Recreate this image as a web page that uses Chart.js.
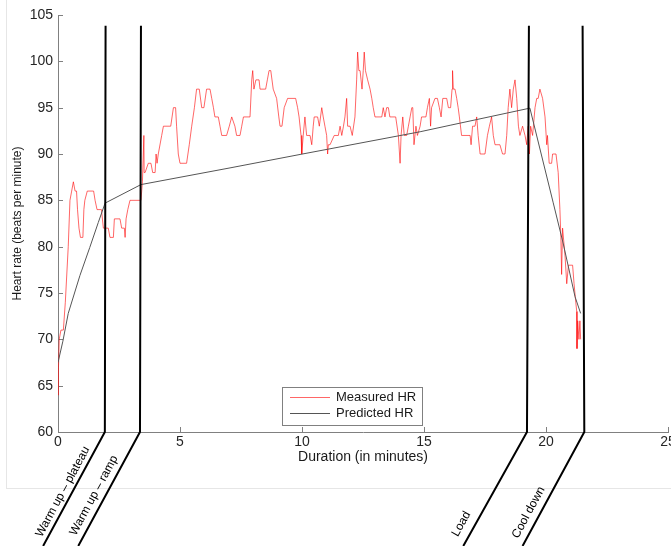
<!DOCTYPE html>
<html>
<head>
<meta charset="utf-8">
<script src="https://cdn.jsdelivr.net/npm/chart.js@4.4.1/dist/chart.umd.min.js"></script>
<style>
    html, body { margin: 0; padding: 0; background: #fff; }
    #wrap { position: relative; width: 671px; height: 546px; overflow: hidden; }
    #frame { position: absolute; left: 6px; top: 0; width: 665px; height: 488px; border-left: 1px solid #e6e6e6; border-bottom: 1px solid #e6e6e6; }
    #hrChart { position: absolute; left: 0; top: 0; }
</style>
</head>
<body>
<div id="wrap">
    <div id="frame"></div>
    <canvas id="hrChart" width="671" height="546"></canvas>
</div>
<script>
// measured heart rate (minutes / bpm), split by stretch
const warmTime = [0.00, 0.02, 0.05, 0.12, 0.22, 0.30, 0.42, 0.49, 0.56, 0.63, 0.70, 0.76, 0.80, 0.86, 0.92, 1.02, 1.06, 1.10, 1.20, 1.46, 1.52, 1.60, 1.78, 1.86, 2.06, 2.13, 2.27, 2.31, 2.54, 2.61, 2.72, 2.75, 2.79, 2.86, 2.95, 3.40];
const warmHR = [64, 67, 70, 71, 71, 74, 80, 85, 86, 87, 86, 86, 84, 82, 81, 81, 84, 85, 86, 86, 85, 84, 84, 82, 82, 81, 81, 83, 83, 82, 82, 81, 83, 84, 85, 85];

const loadTimeA = [3.46, 3.52, 3.53, 3.57, 3.70, 3.81, 3.88, 3.98, 4.02, 4.06, 4.11, 4.25, 4.32, 4.62, 4.73, 4.82, 4.86, 4.93, 5.00, 5.27, 5.38, 5.48, 5.59, 5.68, 5.79, 5.89, 5.98, 6.09, 6.23, 6.30, 6.37, 6.43, 6.57, 6.64, 6.71, 6.91, 7.02, 7.12, 7.25, 7.32, 7.46, 7.53, 7.60, 7.87, 7.94, 7.98, 8.03, 8.11, 8.24, 8.28, 8.51, 8.58, 8.65, 8.72, 8.82, 8.96, 9.05];
const loadHRA = [87, 92, 88, 88, 89, 89, 88, 88, 90, 89, 90, 92, 93, 93, 95, 95, 93, 90, 89, 89, 91, 93, 95, 97, 97, 95, 95, 97, 97, 96, 95, 94, 94, 93, 92, 92, 93, 94, 93, 92, 92, 93, 94, 94, 98, 99, 97, 98, 98, 97, 97, 98, 99, 99, 97, 96, 94];

const loadTimeB = [9.10, 9.18, 9.27, 9.41, 9.74, 9.82, 9.88, 9.96, 9.99, 10.05, 10.12, 10.19, 10.33, 10.40, 10.46, 10.50, 10.64, 10.71, 10.81, 10.87, 10.94, 11.01, 11.05, 11.08, 11.15, 11.32, 11.49, 11.56, 11.63, 11.70, 11.76, 11.83, 11.87, 11.97, 12.06, 12.17, 12.24, 12.28, 12.33, 12.38, 12.42, 12.46, 12.51, 12.55, 12.60, 12.69, 12.79, 12.86, 12.92, 12.99, 13.27, 13.33, 13.40, 13.47, 13.54, 13.60, 13.84, 13.95, 14.02, 14.06, 14.13, 14.19, 14.29, 14.36, 14.43, 14.50];
const loadHRB = [93, 93, 95, 96, 96, 95, 94, 92, 90, 92, 94, 92, 92, 91, 93, 94, 94, 93, 95, 94, 93, 92, 90, 91, 91, 92, 92, 93, 92, 93, 94, 96, 93, 93, 92, 94, 98, 101, 99, 99, 98, 97, 99, 101, 99, 98, 97, 96, 95, 94, 94, 95, 94, 95, 95, 94, 94, 92, 89, 92, 94, 92, 92, 93, 94, 95];

const coolTime = [14.54, 14.59, 14.67, 14.73, 14.84, 14.90, 15.08, 15.14, 15.22, 15.27, 15.31, 15.45, 15.55, 15.63, 15.70, 15.77, 15.93, 16.00, 16.09, 16.15, 16.17, 16.20, 16.27, 16.34, 16.40, 16.45, 16.54, 16.89, 16.93, 16.99, 17.09, 17.16, 17.22, 17.30, 17.50, 17.60, 17.68, 17.77, 17.84, 17.91, 18.11, 18.22, 18.32, 18.39, 18.45, 18.52, 18.59, 18.66, 18.73, 18.80, 18.87, 18.93, 19.04, 19.14, 19.21, 19.27, 19.32, 19.37, 19.45, 19.55, 19.62, 19.68, 19.75, 19.86, 19.96, 20.03, 20.06, 20.13, 20.23, 20.27, 20.41, 20.50, 20.57, 20.61, 20.64, 20.68, 20.78, 20.85, 20.92, 21.09, 21.15, 21.22, 21.26, 21.27, 21.30, 21.35, 21.39, 21.42];
const coolHR = [95, 91, 93, 92, 93, 94, 94, 95, 96, 93, 95, 96, 96, 95, 94, 96, 96, 95, 95, 97, 99, 97, 97, 96, 95, 94, 92, 92, 91, 93, 93, 94, 92, 90, 90, 92, 93, 94, 92, 91, 91, 90, 90, 92, 95, 97, 95, 97, 98, 96, 93, 92, 93, 92, 91, 93, 90, 93, 92, 95, 96, 96, 97, 96, 94, 91, 92, 89, 89, 90, 90, 88, 84, 81, 77, 82, 79, 76, 78, 78, 76, 74, 73, 69, 72, 70, 72, 70];

// predicted heart rate
const predTime = [0, 0.2, 0.42, 0.9, 1.3, 1.65, 1.93, 3.40, 7.05, 9.92, 14.84, 16.07, 19.34, 20.29, 20.70, 21.19, 21.42];
const predHR = [67.5, 69.8, 72.8, 76.9, 79.9, 82.6, 84.7, 86.7, 88.5, 89.95, 92.4, 93.1, 94.95, 84.8, 80.4, 74.6, 72.8];

// phase markers: top of line, foot on the axis, and where the slanted leg leaves the figure
const phaseNames = ['Warm up \u2013 plateau', 'Warm up \u2013 ramp', 'Load', 'Cool down'];
const phaseTopX = [1.95, 3.40, 19.30, 21.50];
const phaseBaseX = [1.92, 3.36, 19.22, 21.57];
const phaseFootX = [-0.61, 0.83, 16.61, 19.04];
const phaseTopY = 103.85;
const phaseFootY = 47.7;
const phaseLabelAt = [0.56, 0.60, 0.86, 0.75];
const phaseLabelGap = [8.5, 10.3, 12.5, 10.7];

const xTicks = [0, 5, 10, 15, 20, 25];
const yTicks = [60, 65, 70, 75, 80, 85, 90, 95, 100, 105];

const seriesNames = ['Measured HR', 'Predicted HR'];
const seriesColors = ['rgba(255, 0, 0, 0.6)', '#555555'];
const axisColor = '#808080';
const fontFamily = '"Liberation Sans", Arial, Helvetica, sans-serif';

const toPoints = (xs, ys) => xs.map((v, i) => ({ x: v, y: ys[i] }));

const measured = [].concat(
    toPoints(warmTime, warmHR),
    toPoints(loadTimeA, loadHRA),
    toPoints(loadTimeB, loadHRB),
    toPoints(coolTime, coolHR)
);

const phaseSets = phaseNames.map((name, i) => ({
    label: name,
    data: [
        { x: phaseTopX[i], y: phaseTopY },
        { x: phaseBaseX[i], y: yTicks[0] },
        { x: phaseFootX[i], y: phaseFootY }
    ],
    borderColor: '#000',
    borderWidth: 2,
    clip: false,
    order: 0
}));

// tick marks pointing into the plot, matlab style
const innerTicks = {
    id: 'innerTicks',
    beforeDatasetsDraw(chart) {
        const { ctx, chartArea: a, scales: { x, y } } = chart;
        ctx.save();
        ctx.strokeStyle = axisColor;
        ctx.lineWidth = 1;
        ctx.beginPath();
        xTicks.forEach(v => {
            const px = Math.round(x.getPixelForValue(v)) + 0.5;
            ctx.moveTo(px, a.bottom);
            ctx.lineTo(px, a.bottom - 5);
        });
        yTicks.forEach(v => {
            const py = Math.round(y.getPixelForValue(v)) + 0.5;
            ctx.moveTo(a.left, py);
            ctx.lineTo(a.left + 5, py);
        });
        ctx.stroke();
        ctx.restore();
    }
};

// slanted phase names alongside the marker legs
const phaseLabels = {
    id: 'phaseLabels',
    afterDatasetsDraw(chart) {
        const { ctx, scales: { x, y } } = chart;
        ctx.save();
        ctx.font = '12px ' + fontFamily;
        ctx.fillStyle = '#000';
        ctx.textAlign = 'center';
        ctx.textBaseline = 'middle';
        phaseNames.forEach((name, i) => {
            const bx = x.getPixelForValue(phaseBaseX[i]);
            const by = y.getPixelForValue(yTicks[0]);
            const fx = x.getPixelForValue(phaseFootX[i]);
            const fy = y.getPixelForValue(phaseFootY);
            const len = Math.hypot(fx - bx, fy - by);
            const ux = (fx - bx) / len, uy = (fy - by) / len;
            const t = phaseLabelAt[i] * len, g = phaseLabelGap[i];
            const cx = bx + ux * t - uy * g;
            const cy = by + uy * t + ux * g;
            ctx.save();
            ctx.translate(cx, cy);
            ctx.rotate(Math.atan2(-uy, -ux));
            ctx.fillText(name, 0, 0);
            ctx.restore();
        });
        ctx.restore();
    }
};

// boxed legend sitting inside the plot
const hrLegend = {
    id: 'hrLegend',
    afterDraw(chart) {
        const { ctx, chartArea: a } = chart;
        const left = a.left + 224, top = a.top + 372, w = 140, h = 38;
        ctx.save();
        ctx.fillStyle = '#fff';
        ctx.fillRect(left, top, w, h);
        ctx.strokeStyle = '#808080';
        ctx.lineWidth = 1;
        ctx.strokeRect(left + 0.5, top + 0.5, w, h);
        ctx.font = '13px ' + fontFamily;
        ctx.textBaseline = 'middle';
        ctx.textAlign = 'left';
        seriesNames.forEach((name, i) => {
            const rowY = top + 10.5 + i * 16;
            ctx.strokeStyle = seriesColors[i];
            ctx.beginPath();
            ctx.moveTo(left + 8, rowY);
            ctx.lineTo(left + 48, rowY);
            ctx.stroke();
            ctx.fillStyle = '#1a1a1a';
            ctx.fillText(name, left + 54, rowY);
        });
        ctx.restore();
    }
};

const ctx = document.getElementById('hrChart');
new Chart(ctx, {
    type: 'line',
    data: {
        datasets: [
            ...phaseSets,
            {
                label: seriesNames[1],
                data: toPoints(predTime, predHR),
                borderColor: seriesColors[1],
                borderWidth: 1,
                order: 1
            },
            {
                label: seriesNames[0],
                data: measured,
                borderColor: seriesColors[0],
                borderWidth: 1,
                order: 2
            }
        ]
    },
    options: {
        responsive: false,
        animation: false,
        devicePixelRatio: 1,
        elements: {
            point: { radius: 0 },
            line: { tension: 0 }
        },
        layout: {
            padding: { top: 15, right: 3, bottom: 74, left: 0 }
        },
        plugins: {
            legend: { display: false },
            tooltip: { enabled: false }
        },
        scales: {
            x: {
                type: 'linear',
                min: xTicks[0],
                max: xTicks[xTicks.length - 1],
                afterBuildTicks: s => { s.ticks = xTicks.map(v => ({ value: v })); },
                afterFit: s => { s.height = 40; s.paddingLeft = 0; s.paddingRight = 0; },
                grid: { display: true, drawOnChartArea: false, drawTicks: false },
                border: { display: true, color: axisColor, width: 1 },
                ticks: {
                    padding: 2,
                    maxRotation: 0,
                    autoSkip: false,
                    color: '#262626',
                    font: { family: fontFamily, size: 14 }
                },
                title: {
                    display: true,
                    text: 'Duration (in minutes)',
                    color: '#1a1a1a',
                    padding: { top: 0, bottom: 6 },
                    font: { family: fontFamily, size: 14 }
                }
            },
            y: {
                min: yTicks[0],
                max: yTicks[yTicks.length - 1],
                afterBuildTicks: s => { s.ticks = yTicks.map(v => ({ value: v })); },
                afterFit: s => { s.width = 58; s.paddingTop = 0; s.paddingBottom = 0; },
                grid: { display: true, drawOnChartArea: false, drawTicks: false },
                border: { display: true, color: axisColor, width: 1 },
                ticks: {
                    padding: 5,
                    autoSkip: false,
                    color: '#262626',
                    font: { family: fontFamily, size: 14 }
                },
                title: {
                    display: true,
                    text: 'Heart rate (beats per minute)',
                    color: '#1a1a1a',
                    padding: { top: 10, bottom: 0 },
                    font: { family: fontFamily, size: 12 }
                }
            }
        }
    },
    plugins: [innerTicks, phaseLabels, hrLegend]
});
</script>
</body>
</html>
